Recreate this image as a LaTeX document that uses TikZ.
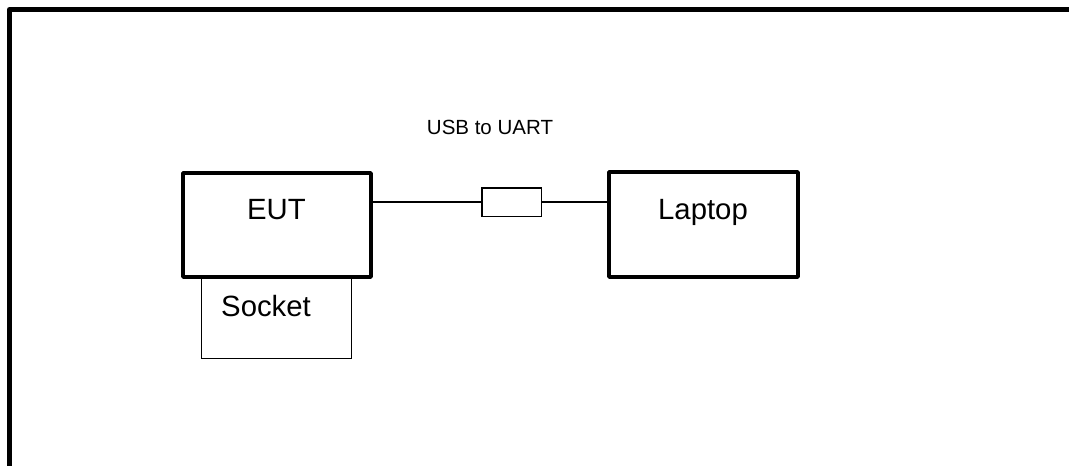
\documentclass[tikz,border=0pt]{standalone}
\usepackage{fontspec}
\setmainfont{Liberation Sans}
\usepackage{tikz}
\usetikzlibrary{calc, positioning}

\tikzset{
    unit/.style={draw, line width=4.3pt, line join=round, inner sep=0pt, outer sep=0pt},
    plug/.style={draw, line width=1pt, inner sep=0pt, outer sep=0pt},
    adapter/.style={draw, line width=1.5pt, inner sep=0pt, outer sep=0pt},
    bigtext/.style={anchor=base, inner sep=0pt, font=\fontsize{29.3}{34}\selectfont},
    smalltext/.style={anchor=base, inner sep=0pt, font=\fontsize{20.5}{24}\selectfont}
}

\begin{document}
\begin{tikzpicture}[x=1pt, y=-1pt]
            \useasboundingbox (0, 0) rectangle (1069, 466);
            \draw[line width=5pt, line join=round] (9.5, 466) -- (9.5, 9.5) -- (1069, 9.5);
            \node[plug, minimum width=150pt, minimum height=81.5pt] (socket) at (276.5, 317.75) {};
            \node[unit, minimum width=187.6pt, minimum height=103.6pt] (eut) at (277, 225) {};
            \node[unit, minimum width=188.6pt, minimum height=104.6pt] (laptop) at (703.5, 224.5) {};
            \node[adapter, minimum width=59.5pt, minimum height=28.5pt] (uart) at (511.5, 202) {};
            \node[bigtext] (euttext) at (276.5, 219) {EUT};
            \node[bigtext] (laptoptext) at (703, 219) {Laptop};
            \node[bigtext] (sockettext) at (266, 316) {Socket};
            \node[smalltext] (uarttext) at (490, 134) {USB to UART};
            \draw[line width=1.3pt] (uart.west -| eut.east) -- (uart.west);
            \draw[line width=1.3pt] (uart.east) -- (uart.east -| laptop.west);
        \end{tikzpicture}
\end{document}
